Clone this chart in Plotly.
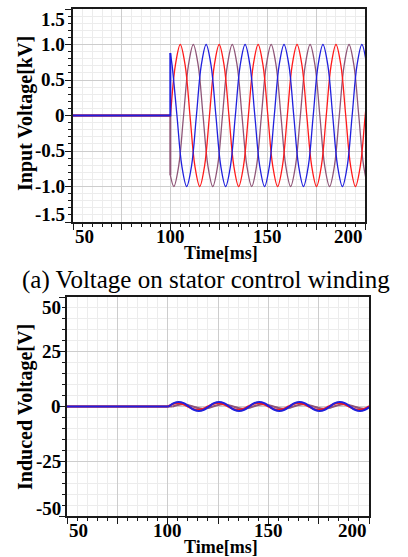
import plotly.graph_objects as go

# ---------------- DATA ----------------
# (a) input voltage [kV], three phases, switched on at t = 100 ms
pre_t = [50, 100]
pre_v = [0, 0]

blue_t = [100.0, 100.9, 103.4, 105.9, 108.4, 110.9, 113.4, 115.9, 118.4, 120.9, 123.4,
          125.9, 128.4, 130.9, 133.4, 135.9, 138.4, 140.9, 143.4, 145.9, 148.4, 150.9,
          153.4, 155.9, 158.4, 160.9, 163.4, 165.9, 168.4, 170.9, 173.4, 175.9, 178.4,
          180.9, 183.4, 185.9, 188.4, 190.9, 193.4, 195.9, 198.4, 200.9, 203.4]
blue_v = [0.88, 0.71, 0, -0.71, -1, -0.71, 0, 0.71, 1, 0.71, 0,
          -0.71, -1, -0.71, 0, 0.71, 1, 0.71, 0, -0.71, -1, -0.71,
          0, 0.71, 1, 0.71, 0, -0.71, -1, -0.71, 0, 0.71, 1,
          0.71, 0, -0.71, -1, -0.71, 0, 0.71, 1, 0.71, 0]

red_t = [100.1, 102.6, 105.1, 107.6, 110.1, 112.6, 115.1, 117.6, 120.1, 122.6, 125.1,
         127.6, 130.1, 132.6, 135.1, 137.6, 140.1, 142.6, 145.1, 147.6, 150.1, 152.6,
         155.1, 157.6, 160.1, 162.6, 165.1, 167.6, 170.1, 172.6, 175.1, 177.6, 180.1,
         182.6, 185.1, 187.6, 190.1, 192.6, 195.1, 197.6, 200.1, 202.6]
red_v = [0, 0.71, 1, 0.71, 0, -0.71, -1, -0.71, 0, 0.71, 1,
         0.71, 0, -0.71, -1, -0.71, 0, 0.71, 1, 0.71, 0, -0.71,
         -1, -0.71, 0, 0.71, 1, 0.71, 0, -0.71, -1, -0.71, 0,
         0.71, 1, 0.71, 0, -0.71, -1, -0.71, 0, 0.71]

purple_t = [100.0, 101.8, 104.3, 106.8, 109.3, 111.8, 114.3, 116.8, 119.3, 121.8, 124.3,
            126.8, 129.3, 131.8, 134.3, 136.8, 139.3, 141.8, 144.3, 146.8, 149.3, 151.8,
            154.3, 156.8, 159.3, 161.8, 164.3, 166.8, 169.3, 171.8, 174.3, 176.8, 179.3,
            181.8, 184.3, 186.8, 189.3, 191.8, 194.3, 196.8, 199.3, 201.8, 204.3]
purple_v = [-0.84, -1, -0.71, 0, 0.71, 1, 0.71, 0, -0.71, -1, -0.71,
            0, 0.71, 1, 0.71, 0, -0.71, -1, -0.71, 0, 0.71, 1,
            0.71, 0, -0.71, -1, -0.71, 0, 0.71, 1, 0.71, 0, -0.71,
            -1, -0.71, 0, 0.71, 1, 0.71, 0, -0.71, -1, -0.71]

# (b) induced voltage [V]
ind_blue_t = [100.5, 103.0, 105.5, 108.0, 110.5, 113.0, 115.5, 118.0, 120.5, 123.0, 125.5,
              128.0, 130.5, 133.0, 135.5, 138.0, 140.5, 143.0, 145.5, 148.0, 150.5, 153.0,
              155.5, 158.0, 160.5, 163.0, 165.5, 168.0, 170.5, 173.0, 175.5, 178.0, 180.5,
              183.0, 185.5, 188.0, 190.5, 193.0, 195.5, 198.0, 200.5, 203.0]
ind_blue_v = [0, 1.5, 2.1, 1.5, 0, -1.5, -2.1, -1.5, 0, 1.5, 2.1,
              1.5, 0, -1.5, -2.1, -1.5, 0, 1.5, 2.1, 1.5, 0, -1.5,
              -2.1, -1.5, 0, 1.5, 2.1, 1.5, 0, -1.5, -2.1, -1.5, 0,
              1.5, 2.1, 1.5, 0, -1.5, -2.1, -1.5, 0, 1.5]

ind_red_t = [100.0, 102.5, 105.0, 107.5, 110.0, 112.5, 115.0, 117.5, 120.0, 122.5, 125.0,
             127.5, 130.0, 132.5, 135.0, 137.5, 140.0, 142.5, 145.0, 147.5, 150.0, 152.5,
             155.0, 157.5, 160.0, 162.5, 165.0, 167.5, 170.0, 172.5, 175.0, 177.5, 180.0,
             182.5, 185.0, 187.5, 190.0, 192.5, 195.0, 197.5, 200.0, 202.5]
ind_red_v = [0, 1.1, 1.6, 1.1, 0, -1.1, -1.6, -1.1, 0, 1.1, 1.6,
             1.1, 0, -1.1, -1.6, -1.1, 0, 1.1, 1.6, 1.1, 0, -1.1,
             -1.6, -1.1, 0, 1.1, 1.6, 1.1, 0, -1.1, -1.6, -1.1, 0,
             1.1, 1.6, 1.1, 0, -1.1, -1.6, -1.1, 0, 1.1]

ind_purple_t = [102.5, 105.0, 107.5, 110.0, 112.5, 115.0, 117.5, 120.0, 122.5, 125.0, 127.5,
                130.0, 132.5, 135.0, 137.5, 140.0, 142.5, 145.0, 147.5, 150.0, 152.5, 155.0,
                157.5, 160.0, 162.5, 165.0, 167.5, 170.0, 172.5, 175.0, 177.5, 180.0, 182.5,
                185.0, 187.5, 190.0, 192.5, 195.0, 197.5, 200.0, 202.5]
ind_purple_v = [0, 0.7, 1.0, 0.7, 0, -0.7, -1.0, -0.7, 0, 0.7, 1.0,
                0.7, 0, -0.7, -1.0, -0.7, 0, 0.7, 1.0, 0.7, 0, -0.7,
                -1.0, -0.7, 0, 0.7, 1.0, 0.7, 0, -0.7, -1.0, -0.7, 0,
                0.7, 1.0, 0.7, 0, -0.7, -1.0, -0.7, 0]

# tick labels
x_tick_vals = [50, 100, 150, 200]
x_tick_text = ["50", "100", "150", "200"]
top_y_tick_vals = [-1.5, -1.0, -0.5, 0, 0.5, 1.0, 1.5]
top_y_tick_text = ["-1.5", "-1.0", "-0.5", "0", "0.5", "1.0", "1.5"]
bot_y_tick_vals = [-50, -25, 0, 25, 50]
bot_y_tick_text = ["-50", "-25", "0", "25", "50"]

caption = "(a) Voltage on stator control winding"
top_x_title = "Time[ms]"
top_y_title = "Input Voltage[kV]"
bot_x_title = "Time[ms]"
bot_y_title = "Induced Voltage[V]"

# ---------------- STYLE / LAYOUT ----------------
W, H = 408, 557
BLUE = "#2020dd"
RED = "#ff1a1a"
PURPLE = "#8f5577"
SERIF = "Liberation Serif"


def px(p):
    return p / W


def py(p):
    return 1 - p / H


fig = go.Figure()

# top chart traces (purple below, red, blue on top)
for col, tt, vv in [(PURPLE, purple_t, purple_v), (RED, red_t, red_v), (BLUE, blue_t, blue_v)]:
    fig.add_trace(go.Scatter(x=pre_t + [tt[0]], y=pre_v + [vv[0]], mode="lines",
                             line=dict(color=col, width=2), xaxis="x", yaxis="y"))
    fig.add_trace(go.Scatter(x=tt, y=vv, mode="lines",
                             line=dict(color=col, width=1.3, shape="spline"), xaxis="x", yaxis="y"))

# bottom chart traces
for col, tt, vv in [(PURPLE, ind_purple_t, ind_purple_v),
                    (RED, ind_red_t, ind_red_v),
                    (BLUE, ind_blue_t, ind_blue_v)]:
    fig.add_trace(go.Scatter(x=pre_t + [tt[0]], y=pre_v + [vv[0]], mode="lines",
                             line=dict(color=col, width=2), xaxis="x2", yaxis="y2"))
    fig.add_trace(go.Scatter(x=tt, y=vv, mode="lines",
                             line=dict(color=col, width=2, shape="spline"), xaxis="x2", yaxis="y2"))

axis_common = dict(showline=True, linecolor="#1a1a1a", linewidth=2, mirror=True,
                   ticks="outside", ticklen=6, tickwidth=1, tickcolor="#1a1a1a",
                   showticklabels=False, zeroline=False, showgrid=True,
                   gridcolor="#cdcdcd", gridwidth=1)

fig.update_layout(
    width=W, height=H, margin=dict(l=0, r=0, t=0, b=0),
    paper_bgcolor="white", plot_bgcolor="white", showlegend=False,
    xaxis=dict(domain=[px(73), px(365)], anchor="y", range=[50, 200],
               tickmode="linear", tick0=50, dtick=25,
               minor=dict(dtick=5, tick0=50, ticks="outside", ticklen=3, tickcolor="#1a1a1a",
                          showgrid=True, gridcolor="#ececec"),
               **axis_common),
    yaxis=dict(domain=[py(222), py(9)], anchor="x", range=[-1.5, 1.5],
               tickmode="linear", tick0=0, dtick=0.5,
               minor=dict(dtick=0.1, tick0=0, ticks="outside", ticklen=3, tickcolor="#1a1a1a",
                          showgrid=True, gridcolor="#ececec"),
               **axis_common),
    xaxis2=dict(domain=[px(67), px(369)], anchor="y2", range=[50, 200],
                tickmode="linear", tick0=50, dtick=25,
                minor=dict(dtick=5, tick0=50, ticks="outside", ticklen=3, tickcolor="#1a1a1a",
                           showgrid=True, gridcolor="#ececec"),
                **axis_common),
    yaxis2=dict(domain=[py(516), py(297)], anchor="x2", range=[-50, 50],
                tickmode="linear", tick0=0, dtick=25,
                minor=dict(dtick=5, tick0=0, ticks="outside", ticklen=3, tickcolor="#1a1a1a",
                           showgrid=True, gridcolor="#ececec"),
                **axis_common),
)


def tick_font():
    return dict(family=SERIF, size=19, color="black", weight=900)


ann = []


def x_labels(xref, ypix):
    n = len(x_tick_vals)
    for i, (v, t) in enumerate(zip(x_tick_vals, x_tick_text)):
        anchor = "left" if i == 0 else ("right" if i == n - 1 else "center")
        ann.append(dict(x=v, xref=xref, y=py(ypix), yref="paper", text="<b>" + t + "</b>",
                        showarrow=False, xanchor=anchor, yanchor="middle", font=tick_font()))


def y_labels(vals, texts, yref, xpix):
    n = len(vals)
    for i, (v, t) in enumerate(zip(vals, texts)):
        anchor = "bottom" if i == 0 else ("top" if i == n - 1 else "middle")
        shift = -5 if i == 0 else (2 if i == n - 1 else 0)
        ann.append(dict(x=px(xpix), xref="paper", y=v, yref=yref, text="<b>" + t + "</b>",
                        showarrow=False, xanchor="right", yanchor=anchor, yshift=shift,
                        font=tick_font()))


x_labels("x", 236)
x_labels("x2", 530)
y_labels(top_y_tick_vals, top_y_tick_text, "y", 67)
y_labels(bot_y_tick_vals, bot_y_tick_text, "y2", 63)

for xt, yc in [(top_x_title, 253), (bot_x_title, 547)]:
    ann.append(dict(x=px(221), y=py(yc), xref="paper", yref="paper", text="<b>" + xt + "</b>",
                    showarrow=False, xanchor="center", yanchor="middle",
                    font=dict(family=SERIF, size=18, color="black")))
for yt, yc in [(top_y_title, 114), (bot_y_title, 407)]:
    ann.append(dict(x=px(25), y=py(yc), xref="paper", yref="paper", text="<b>" + yt + "</b>",
                    showarrow=False, xanchor="center", yanchor="middle", textangle=-90,
                    font=dict(family=SERIF, size=20, color="black")))
ann.append(dict(x=px(206), y=py(280), xref="paper", yref="paper", text=caption,
                showarrow=False, xanchor="center", yanchor="middle",
                font=dict(family=SERIF, size=25, color="black")))

fig.update_layout(annotations=ann)
fig.write_html("out.html")
